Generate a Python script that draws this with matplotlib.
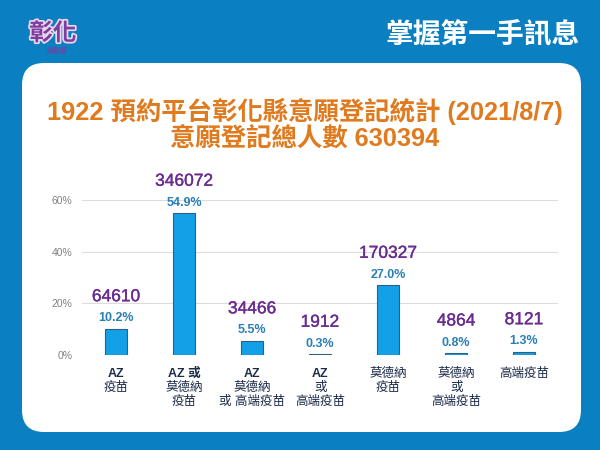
import matplotlib.pyplot as plt
from matplotlib.patches import FancyBboxPatch
import matplotlib.patheffects as pe

plt.rcParams['font.family'] = ['Liberation Sans', 'Noto Sans CJK TC', 'DejaVu Sans']

# data
categories = [
    ['AZ', '疫苗'],
    ['AZ 或', '莫德納', '疫苗'],
    ['AZ', '莫德納', '或 高端疫苗'],
    ['AZ', '或', '高端疫苗'],
    ['莫德納', '疫苗'],
    ['莫德納', '或', '高端疫苗'],
    ['高端疫苗'],
]
counts = [64610, 346072, 34466, 1912, 170327, 4864, 8121]
shares = [10.2, 54.9, 5.5, 0.3, 27.0, 0.8, 1.3]
yticks = [0, 20, 40, 60]

fig = plt.figure(figsize=(6, 4.5), dpi=100)
fig.patch.set_facecolor('#0a7fc1')

# white rounded panel
panel = FancyBboxPatch((0.22, 0.18), 5.59, 3.69,
                       boxstyle='round,pad=0,rounding_size=0.22',
                       transform=fig.dpi_scale_trans, fc='white', ec='none',
                       zorder=-10)
fig.add_artist(panel)

# header
fig.text(0.967, 0.922, '掌握第一手訊息', color='white', fontsize=20,
         fontweight='bold', ha='right', va='center')
logo = fig.text(0.088, 0.925, '彰化', color='#7d3c9e', fontsize=17,
                fontweight='bold', ha='center', va='center', style='italic')
logo.set_path_effects([pe.withStroke(linewidth=2.5, foreground='#e8d8f0')])
fig.text(0.095, 0.885, '議數曆', color='#7d3c9e', fontsize=5,
         ha='center', va='center')

# titles
fig.text(0.508, 0.753, '1922 預約平台彰化縣意願登記統計 (2021/8/7)',
         color='#e07a1f', fontsize=18.3, fontweight='bold', ha='center', va='center')
fig.text(0.508, 0.693, '意願登記總人數 630394',
         color='#e07a1f', fontsize=18.3, fontweight='bold', ha='center', va='center')

ax = fig.add_axes([0.1367, 0.2111, 0.7933, 0.3444])
ax.set_facecolor('none')
x = list(range(len(counts)))
ax.bar(x, shares, width=0.33, color='#12a0e6', edgecolor='#2f5f82',
       linewidth=0.8, zorder=3)
ax.set_xlim(-0.5, 6.5)
ax.set_ylim(0, 60)
ax.set_yticks(yticks)
ax.set_yticklabels([f'{t}%' for t in yticks])
ax.set_xticks([])
ax.grid(axis='y', color='#dcdcdc', linewidth=0.8, zorder=0)
for s in ax.spines.values():
    s.set_visible(False)
ax.tick_params(length=0, labelsize=7.5, colors='#808080', pad=7)

for i, (s, c) in enumerate(zip(shares, counts)):
    ax.annotate(f'{s:.1f}%', (i, s), xytext=(0, 7.5), textcoords='offset points',
                ha='center', va='center', fontsize=9, fontweight='bold',
                color='#2a7fb5', annotation_clip=False)
    cnt = ax.annotate(f'{c}', (i, s), xytext=(0, 23), textcoords='offset points',
                      ha='center', va='center', fontsize=12.5, color='#6a2c91',
                      annotation_clip=False)
    cnt.set_path_effects([pe.withStroke(linewidth=0.25, foreground='#6a2c91')])
    for k, line in enumerate(categories[i]):
        ax.annotate(line, (i, 0), xycoords=('data', 'axes fraction'),
                    xytext=(0, -13.5 - 10 * k), textcoords='offset points',
                    ha='center', va='center', fontsize=9, color='#1c2b4a',
                    fontweight='bold' if line.startswith('AZ') else 'normal',
                    annotation_clip=False)

fig.savefig('out.png', dpi=100, facecolor=fig.get_facecolor())
